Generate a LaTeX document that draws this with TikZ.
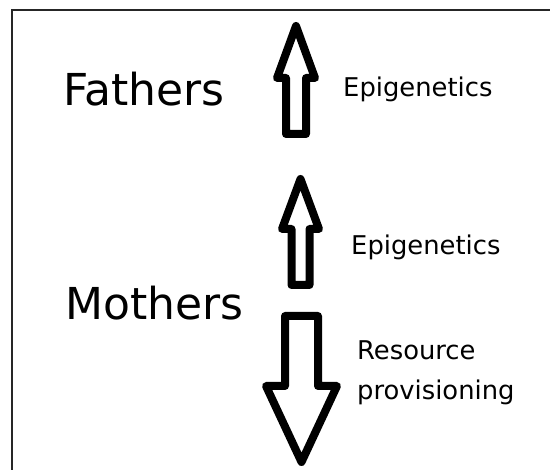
\documentclass[tikz,border=0pt]{standalone}
\usepackage{fontspec}
\setmainfont{DejaVu Sans}
\usepackage{tikz}

\tikzset{
  blockarrow/.style={draw, line width=8pt, line join=round, fill=white},
  bigword/.style={anchor=base west, inner sep=0pt, font=\fontsize{44}{52}\selectfont},
  smallword/.style={anchor=base west, inner sep=0pt, font=\fontsize{25.8}{40}\selectfont},
}

\begin{document}
\begin{tikzpicture}[x=1pt, y=-1pt]
    \useasboundingbox (0,0) rectangle (550,470);

    % frame
    \draw[line width=2pt, black!85] (12,470) -- (12,10) -- (550,10);

    % labels
    \node[bigword] (fathers) at (63,106) {Fathers};
    \node[bigword] (mothers) at (65,320) {Mothers};
    \node[smallword] (epi1) at (343,97) {Epigenetics};
    \node[smallword] (epi2) at (351,255) {Epigenetics};
    \node[smallword] (res) at (357,360) {Resource};
    \node[smallword] (prov) at (357,400) {provisioning};

    % fathers, up
    \draw[blockarrow] (296,26) -- (315,78) -- (306,78) -- (306,134)
        -- (286,134) -- (286,78) -- (277,78) -- cycle;
    % mothers, up
    \draw[blockarrow] (300.5,179) -- (319,229) -- (309.5,229) -- (309.5,285)
        -- (291.5,285) -- (291.5,229) -- (282,229) -- cycle;
    % mothers, down
    \draw[blockarrow] (285,316) -- (318,316) -- (318,386) -- (337,386)
        -- (301.5,462) -- (266,386) -- (285,386) -- cycle;

\end{tikzpicture}
\end{document}
